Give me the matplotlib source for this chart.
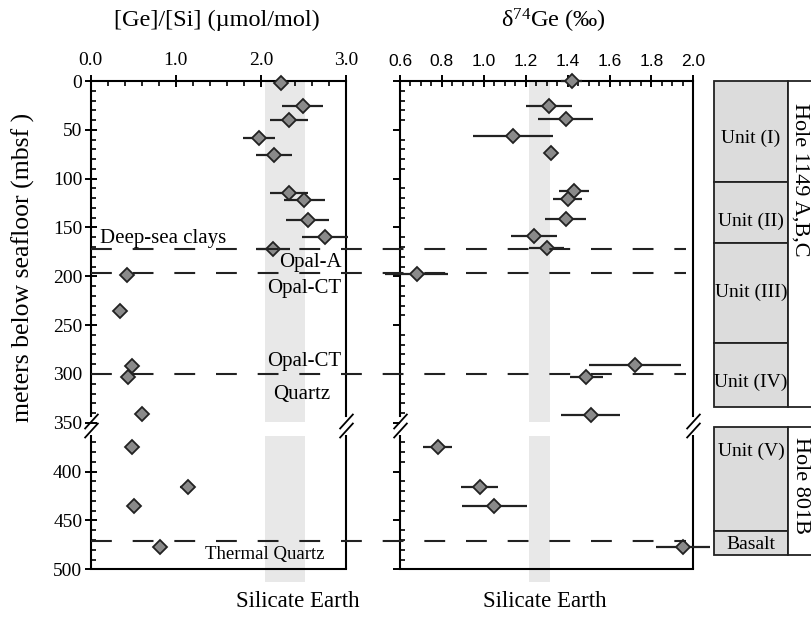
import matplotlib
matplotlib.use('Agg')
import matplotlib.pyplot as plt
import matplotlib.transforms as mtransforms
from matplotlib.lines import Line2D
from matplotlib.patches import Rectangle
from matplotlib.path import Path
from matplotlib.ticker import MultipleLocator, FixedLocator

plt.rcParams['font.family'] = ['Liberation Serif', 'DejaVu Serif']
plt.rcParams['mathtext.fontset'] = 'custom'
plt.rcParams['mathtext.rm'] = 'Liberation Serif'
plt.rcParams['mathtext.it'] = 'Liberation Serif:italic'

# [Ge]/[Si] profile (umol/mol)
gesi_depth = [2, 26, 40, 58, 76, 115, 122, 142, 160, 172, 199, 235, 292, 303, 341, 375, 416, 435, 477]
gesi_val = [2.24, 2.49, 2.33, 1.98, 2.15, 2.33, 2.51, 2.55, 2.75, 2.14, 0.43, 0.34, 0.49, 0.44, 0.60,
            0.49, 1.14, 0.51, 0.82]
gesi_err = [0, 0.24, 0.22, 0.19, 0.21, 0.22, 0.24, 0.25, 0.27, 0.20, 0, 0, 0, 0, 0, 0, 0.09, 0, 0]

# d74Ge profile (permil)
d74_depth = [0, 26, 39, 56, 74, 113, 121, 141, 159, 171, 198, 291, 303, 342, 375, 416, 435, 477]
d74_val = [1.42, 1.31, 1.39, 1.14, 1.32, 1.43, 1.40, 1.39, 1.24, 1.30, 0.68, 1.72, 1.49, 1.51,
           0.78, 0.98, 1.05, 1.95]
d74_err = [0.05, 0.11, 0.13, 0.19, 0, 0.07, 0.07, 0.10, 0.11, 0.085, 0.15, 0.22, 0.08, 0.14,
           0.07, 0.09, 0.155, 0.13]

# silicate Earth ranges
gesi_bse = (2.05, 2.52)
d74_bse = (1.215, 1.315)

# diagenetic boundaries (mbsf)
boundary_depths = [172, 197, 300, 471]

# lithological units
unit_names = ['Unit (I)', 'Unit (II)', 'Unit (III)', 'Unit (IV)', 'Unit (V)', 'Basalt']
unit_tops = [0, 103, 166, 268, 354, 461]
unit_bottoms = [103, 166, 268, 334, 461, 485]
unit_label_depths = [59, 144, 216, 309, 379, 475]
holes = ['Hole 1149 A,B,C', 'Hole 801B']
hole_tops = [0, 354]
hole_bottoms = [334, 485]
hole_label_depths = [101, 414]

gap_top, gap_bottom = 343, 362

W, H = 812, 618
fig = plt.figure(figsize=(W / 100, H / 100), dpi=100)


def px_axes(x0, x1, y0, y1):
    return fig.add_axes([x0 / W, 1 - y1 / H, (x1 - x0) / W, (y1 - y0) / H])


ax1 = px_axes(90.7, 346, 81, 569.3)
ax2 = px_axes(400, 693.3, 81, 569.3)
ax3 = px_axes(714, 812, 81, 569.3)

slash = Path([(-1, -1.1), (1, 1.1)], [Path.MOVETO, Path.LINETO])


def setup_depth_axis(ax, xlim, major, minor, yticklabels):
    ax.set_xlim(*xlim)
    ax.set_ylim(500, 0)
    ax.xaxis.tick_top()
    ax.xaxis.set_major_locator(MultipleLocator(major))
    ax.xaxis.set_minor_locator(MultipleLocator(minor))
    ax.tick_params(axis='x', which='major', direction='inout', length=9, width=1.4, pad=4)
    ax.tick_params(axis='x', which='minor', direction='in', length=3.5, width=1.2)
    ax.yaxis.set_major_locator(MultipleLocator(50))
    ax.yaxis.set_minor_locator(FixedLocator([d for d in range(0, 501, 10)
                                             if d % 50 and not 340 < d < 365]))
    ax.tick_params(axis='y', which='major', direction='inout' if yticklabels else 'out',
                   length=8 if yticklabels else 5, width=1.4, labelsize=14, pad=2)
    ax.tick_params(axis='y', which='minor', direction='in', length=3.5, width=1.2)
    if not yticklabels:
        ax.set_yticklabels([])
    ax.yaxis.get_major_ticks()[7].tick1line.set_visible(False)
    for s in ax.spines.values():
        s.set_linewidth(1.5)
    trans = mtransforms.blended_transform_factory(ax.transAxes, ax.transData)
    for side, x in (('left', 0), ('right', 1)):
        ax.spines[side].set_bounds(0, gap_top)
        ax.plot([x, x], [gap_bottom, 500], color='k', lw=1.5, transform=trans,
                clip_on=False, solid_capstyle='butt')
        ax.plot([x, x], [348.5, 357.5], ls='none', marker=slash, ms=11, mec='k', mew=1.3,
                transform=trans, clip_on=False)


setup_depth_axis(ax1, (0, 3.0), 1.0, 0.2, True)
ax1.xaxis.set_major_formatter(plt.FormatStrFormatter('%.1f'))
ax1.tick_params(axis='x', labelsize=14)
setup_depth_axis(ax2, (0.6, 2.0), 0.2, 0.05, False)
ax2.xaxis.set_major_formatter(plt.FormatStrFormatter('%.1f'))
for lab in ax2.get_xticklabels():
    lab.set_family('Liberation Sans')
    lab.set_fontsize(12.5)

# silicate Earth bands, broken at the axis gap
for ax, band in ((ax1, gesi_bse), (ax2, d74_bse)):
    ax.fill_betweenx([0, 349], band[0], band[1], color='#e8e8e8', lw=0, zorder=0)
    ax.fill_betweenx([364, 513], band[0], band[1], color='#e8e8e8', lw=0, zorder=0, clip_on=False)

# boundaries across both panels
for d in boundary_depths:
    trans = mtransforms.blended_transform_factory(fig.transFigure, ax1.transData)
    fig.add_artist(Line2D([0.112, 0.845], [d, d], transform=trans, color='#222222', lw=1.5,
                          linestyle=(0, (10, 10)), zorder=3))

mk = dict(fmt='D', ms=6.8, mfc='#8a8a8a', mec='#222222', mew=1.3, ecolor='#222222',
          elinewidth=1.6, capsize=0, clip_on=False, zorder=5)
ax1.errorbar(gesi_val, gesi_depth, xerr=gesi_err, **mk)
ax2.errorbar(d74_val, d74_depth, xerr=d74_err, **mk)

ax1.text(0.11, 161, 'Deep-sea clays', fontsize=15, ha='left', va='center')
ax1.text(2.95, 186, 'Opal-A', fontsize=15, ha='right', va='center')
ax1.text(2.95, 212, 'Opal-CT', fontsize=15, ha='right', va='center')
ax1.text(2.95, 287, 'Opal-CT', fontsize=15, ha='right', va='center')
ax1.text(2.48, 321, 'Quartz', fontsize=15, ha='center', va='center')
ax1.text(2.05, 485, 'Thermal Quartz', fontsize=13.5, ha='center', va='center')
ax1.text(2.43, 533, 'Silicate Earth', fontsize=16.5, ha='center', va='center')
ax2.text(1.289, 533, 'Silicate Earth', fontsize=16.5, ha='center', va='center')

ax1.text(0.494, 1.124, '[Ge]/[Si] (\u00b5mol/mol)', transform=ax1.transAxes, fontsize=17.5,
         ha='center', va='center')
ax2.text(0.522, 1.124, r'$\mathregular{\delta^{74}}$Ge (' + '\u2030)', transform=ax2.transAxes,
         fontsize=17.5, ha='center', va='center')
fig.text(23 / W, 1 - 267 / H, 'meters below seafloor (mbsf )', rotation=90, fontsize=18.5,
         ha='center', va='center')

# stratigraphic column
ax3.set_xlim(0, 1)
ax3.set_ylim(500, 0)
ax3.axis('off')
for top, bot, name, ly in zip(unit_tops, unit_bottoms, unit_names, unit_label_depths):
    ax3.add_patch(Rectangle((0, top), 0.755, bot - top, facecolor='#dcdcdc', edgecolor='#222222',
                            lw=1.3, clip_on=False))
    ax3.text(0.378, ly, name, fontsize=14, ha='center', va='center')
for top, bot, name, ly in zip(hole_tops, hole_bottoms, holes, hole_label_depths):
    ax3.add_patch(Rectangle((0.755, top), 0.5, bot - top, facecolor='white', edgecolor='#222222',
                            lw=1.3, clip_on=False))
    ax3.text(0.88, ly, name, fontsize=16, rotation=-90, ha='center', va='center')

fig.savefig('out.png', dpi=100)
